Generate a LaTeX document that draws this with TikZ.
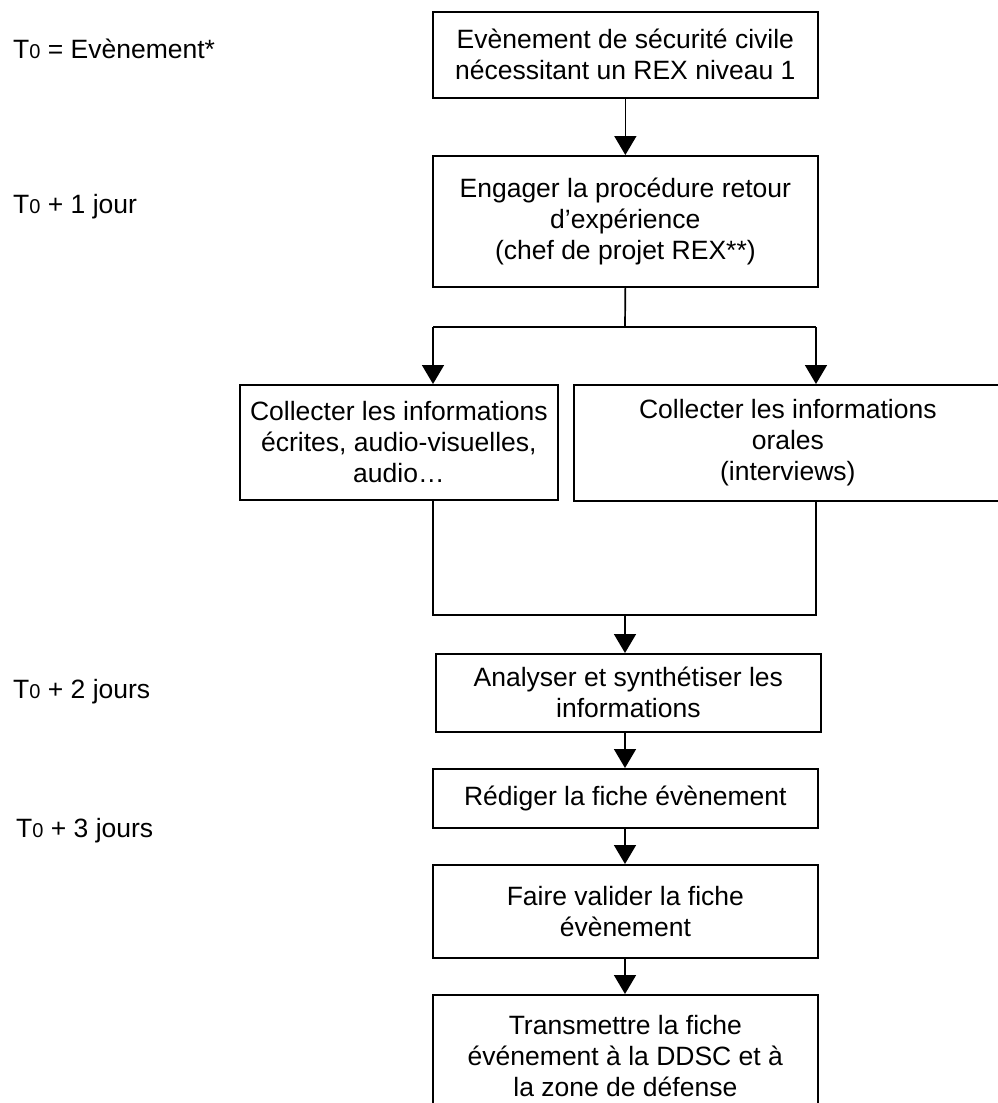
\documentclass[tikz,border=0pt]{standalone}
\usepackage{fontspec}
\setmainfont{Liberation Sans}
\usetikzlibrary{arrows.meta}
\newcommand{\Tzero}{T{\fontsize{20}{20}\selectfont 0}}
\begin{document}
\begin{tikzpicture}[x=1pt,y=-1pt,
  every node/.style={font=\fontsize{26.5}{31}\selectfont},
  stepbox/.style={draw, line width=1.7pt, align=center, inner sep=0pt, anchor=north west},
  link/.style={line width=1.7pt},
  arr/.style={line width=1.7pt, -{Triangle[width=22pt,length=19pt]}},
  daylabel/.style={anchor=base west, inner sep=0pt}]
\useasboundingbox (0,0) rectangle (997,1103);

% time labels
\node[daylabel] (t0) at (13,58) {\Tzero{} = Evènement*};
\node[daylabel] (t1) at (13,213) {\Tzero{} + 1 jour};
\node[daylabel] (t2) at (13,698) {\Tzero{} + 2 jours};
\node[daylabel] (t3) at (16,837) {\Tzero{} + 3 jours};

% process steps
\node[stepbox, minimum width=385pt, minimum height=86pt] (b1) at (432,11)
  {Evènement de sécurité civile\\nécessitant un REX niveau 1};
\node[stepbox, minimum width=385pt, minimum height=131pt] (b2) at (432,155)
  {Engager la procédure retour\\d’expérience\\(chef de projet REX**)};
\node[stepbox, minimum width=318pt, minimum height=115pt] (b3) at (239,384)
  {Collecter les informations\\écrites, audio-visuelles,\\audio…};
\node[stepbox, minimum width=428pt, minimum height=116pt] (b4) at (573,384)
  {Collecter les informations\\orales\\(interviews)};
\node[stepbox, minimum width=385pt, minimum height=78pt] (b5) at (435,653)
  {Analyser et synthétiser les\\informations};
\node[stepbox, minimum width=385pt, minimum height=59pt] (b6) at (432,768)
  {Rédiger la fiche évènement};
\node[stepbox, minimum width=385pt, minimum height=93pt] (b7) at (432,864)
  {Faire valider la fiche\\évènement};
\node[stepbox, minimum width=385pt, minimum height=122pt] (b8) at (432,994)
  {Transmettre la fiche\\événement à la DDSC et à\\la zone de défense};

% branch and merge points
\coordinate (split) at (625,327);
\coordinate (jl) at (433,327);
\coordinate (jr) at (816,327);
\coordinate (ml) at (433,615);
\coordinate (mr) at (816,615);
\coordinate (merge) at (625,615);

% connectors
\draw[arr] (b1.south) -- (b2.north);
\draw[link] (b2.south) -- (split);
\draw[link] (jl) -- (jr);
\draw[arr] (jl) -- (jl |- b3.north);
\draw[arr] (jr) -- (jr |- b4.north);
\draw[link] (jl |- b3.south) -- (ml) -- (mr) -- (jr |- b4.south);
\draw[arr] (merge) -- (merge |- b5.north);
\draw[arr] (b5.south -| merge) -- (merge |- b6.north);
\draw[arr] (b6.south -| merge) -- (merge |- b7.north);
\draw[arr] (b7.south -| merge) -- (merge |- b8.north);
\end{tikzpicture}
\end{document}
